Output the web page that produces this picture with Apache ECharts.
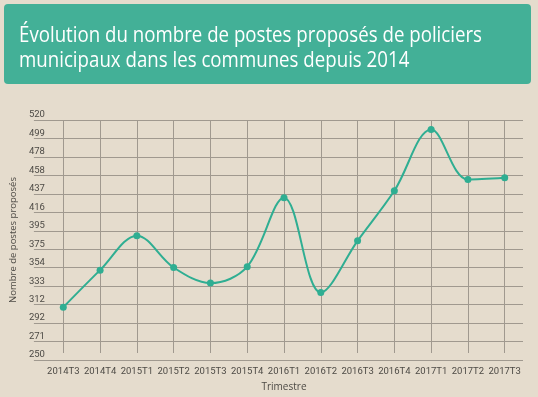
<!DOCTYPE html>
<html><head><meta charset="utf-8">
<script src="https://cdn.jsdelivr.net/npm/echarts@6/dist/echarts.min.js"></script>
<style>html,body{margin:0;padding:0;background:#e5dccd;}#c{width:538px;height:397px;}</style>
</head><body><div id="c"></div>
<script>
const titleLines = ["Évolution du nombre de postes proposés de policiers", "municipaux dans les communes depuis 2014"];
const categories = ["2014T3","2014T4","2015T1","2015T2","2015T3","2015T4","2016T1","2016T2","2016T3","2016T4","2017T1","2017T2","2017T3"];
const values = [303, 346, 386, 349, 331, 350, 430, 320, 380, 438, 509, 451, 453];
const yMin = 250, yMax = 520, yIntervals = 13;
const yAxisName = "Nombre de postes proposés";
const xAxisName = "Trimestre";

const gridColor = "#a0998f";
const labelColor = "#4d4a45";
const teal = "#2fae92";
const titleFont = '22px "Open Sans", sans-serif';
const cv = document.createElement('canvas').getContext('2d');
cv.font = titleFont;
const titleScale = 463 / cv.measureText(titleLines[0]).width;

const chart = echarts.init(document.getElementById('c'), null, {renderer:'canvas'});
const step = (yMax - yMin) / yIntervals;
chart.setOption({
  backgroundColor: '#e5dccd',
  animation: false,
  graphic: [
    {type:'rect', left:4, top:4, shape:{width:527, height:80, r:4}, style:{fill:'#43b097'}, z:0},
    {type:'text', x:19, y:35.5, scaleX:titleScale, style:{text:titleLines[0], fill:'#ffffff', font:titleFont, verticalAlign:'middle'}, z:1},
    {type:'text', x:19, y:60.5, scaleX:titleScale, style:{text:titleLines[1], fill:'#ffffff', font:titleFont, verticalAlign:'middle'}, z:1}
  ],
  grid: [
    {left:24, right:15, top:120, bottom:37},
    {left:63.3, right:33.3, top:120, bottom:37}
  ],
  xAxis: [
    {gridIndex:0, type:'value', min:0, max:1, show:false},
    {gridIndex:1, type:'category', data:categories, boundaryGap:false,
     axisLine:{show:false}, axisTick:{show:false},
     axisLabel:{color:labelColor, fontSize:9.5, fontFamily:'Roboto', margin:14, interval:0},
     splitLine:{show:true, lineStyle:{color:gridColor, width:1}},
     name:xAxisName, nameLocation:'middle', nameGap:29,
     nameTextStyle:{color:labelColor, fontSize:10, fontFamily:'Open Sans'}}
  ],
  yAxis: [
    {gridIndex:0, type:'value', min:yMin, max:yMax, interval:step, offset:5,
     axisLine:{show:false}, axisTick:{show:false},
     axisLabel:{inside:true, margin:0, verticalAlign:'bottom', color:labelColor, fontSize:9.5, fontFamily:'Roboto',
       formatter: v => String(Math.round(v))},
     splitLine:{show:true, lineStyle:{color:gridColor, width:1}},
     name:yAxisName, nameLocation:'middle', nameGap:5,
     nameTextStyle:{color:labelColor, fontSize:9.5, fontFamily:'Open Sans'}},
    {gridIndex:1, type:'value', min:yMin, max:yMax, show:false, splitLine:{show:false}}
  ],
  series: [{
    type:'line', xAxisIndex:1, yAxisIndex:1, data:values, smooth:0.35,
    symbol:'circle', symbolSize:7, showSymbol:true,
    lineStyle:{color:teal, width:2}, itemStyle:{color:teal}
  }]
});
</script></body></html>
